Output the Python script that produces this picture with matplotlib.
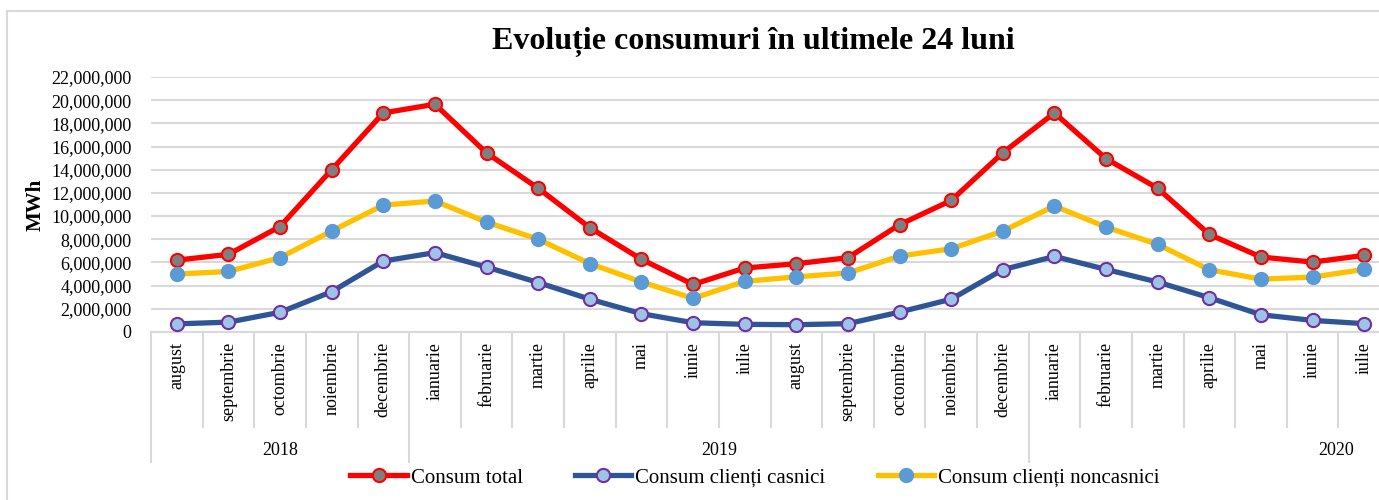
import matplotlib
matplotlib.use("Agg")
import matplotlib.pyplot as plt
from matplotlib.ticker import FuncFormatter, MultipleLocator
from matplotlib.lines import Line2D

plt.rcParams["font.family"] = ["Liberation Serif", "DejaVu Serif"]

# Data (MWh), august 2018 - iulie 2020
months = ["august", "septembrie", "octombrie", "noiembrie", "decembrie",
          "ianuarie", "februarie", "martie", "aprilie", "mai", "iunie", "iulie",
          "august", "septembrie", "octombrie", "noiembrie", "decembrie",
          "ianuarie", "februarie", "martie", "aprilie", "mai", "iunie", "iulie"]
years = ["2018", "2019", "2020"]
year_label_pos = [2.0, 10.5, 22.45]
year_breaks = [4.5, 16.5]

total = [6.2, 6.7, 9.1, 14.0, 18.9, 19.65, 15.45, 12.4, 9.0, 6.27, 4.1, 5.52,
         5.89, 6.41, 9.26, 11.35, 15.46, 18.9, 14.95, 12.4, 8.42, 6.47, 6.03, 6.61]
casnici = [0.7, 0.85, 1.7, 3.48, 6.12, 6.85, 5.6, 4.27, 2.83, 1.58, 0.8, 0.66,
           0.63, 0.72, 1.72, 2.83, 5.38, 6.52, 5.4, 4.31, 2.96, 1.49, 1.0, 0.72]
noncasnici = [5.0, 5.22, 6.42, 8.71, 10.95, 11.3, 9.48, 8.0, 5.9, 4.32, 2.9, 4.37,
              4.76, 5.09, 6.55, 7.18, 8.71, 10.87, 9.05, 7.56, 5.37, 4.56, 4.74, 5.4]

total = [v * 1e6 for v in total]
casnici = [v * 1e6 for v in casnici]
noncasnici = [v * 1e6 for v in noncasnici]

fig = plt.figure(figsize=(13.79, 5.0), dpi=100)
ax = fig.add_axes([151 / 1379, 1 - 332 / 500, 1239 / 1379, 255 / 500])

x = list(range(len(months)))
ax.plot(x, total, color="#ff0000", lw=3.8, marker="o", ms=9.5,
        mfc="#7f7f7f", mec="#ff0000", mew=1.5, label="Consum total", zorder=3)
ax.plot(x, casnici, color="#2f5597", lw=3.8, marker="o", ms=9.5,
        mfc="#9dc3e6", mec="#7030a0", mew=1.5, label="Consum clienți casnici", zorder=3)
ax.plot(x, noncasnici, color="#ffc000", lw=3.8, marker="o", ms=9.5,
        mfc="#5b9bd5", mec="#5b9bd5", mew=1.5, label="Consum clienți noncasnici", zorder=3)

ax.set_xlim(-0.5, len(months) - 0.5)
ax.set_ylim(0, 22e6)
ax.yaxis.set_major_locator(MultipleLocator(2e6))
ax.yaxis.set_major_formatter(FuncFormatter(lambda v, p: f"{v:,.0f}"))
ax.grid(axis="y", color="#d9d9d9", lw=1.5)
ax.set_axisbelow(True)
for s in ["top", "right", "left"]:
    ax.spines[s].set_visible(False)
ax.spines["bottom"].set_color("#d9d9d9")
ax.spines["bottom"].set_linewidth(1.5)
ax.tick_params(axis="y", length=0, pad=14, labelsize=13)
ax.set_xticks([])
ax.set_ylabel("MWh", fontsize=15, fontweight="bold")
ax.yaxis.set_label_coords(-0.085, 0.5)

# category axis: months and years
tr = ax.get_xaxis_transform()
for i, m in enumerate(months):
    ax.text(i, -0.04, m, transform=tr, rotation=90, ha="center", va="top", fontsize=13)
for i in range(len(months) + 1):
    b = i - 0.5
    y_end = -0.51 if (b == -0.5 or b in year_breaks) else -0.3725
    ax.add_line(Line2D([b, b], [0, y_end], transform=tr, color="#d9d9d9",
                       lw=1.5, clip_on=False))
for pos, yr in zip(year_label_pos, years):
    ax.text(pos, -0.463, yr, transform=tr, ha="center", va="center", fontsize=13)

fig.text(753 / 1379, 1 - 42 / 500, "Evoluție consumuri în ultimele 24 luni",
         ha="center", va="center", fontsize=23, fontweight="bold")

# chart frame (left and top edges visible in the crop)
fig.add_artist(Line2D([7 / 1379, 7 / 1379], [0, 1 - 11 / 500], color="#d9d9d9", lw=1.5))
fig.add_artist(Line2D([7 / 1379, 1], [1 - 11 / 500, 1 - 11 / 500], color="#d9d9d9", lw=1.5))

fig.legend(loc="center", bbox_to_anchor=(755 / 1379, 1 - 478 / 500), ncol=3,
           frameon=False, fontsize=15, handlelength=2.7, handletextpad=0.2,
           columnspacing=2.5, borderpad=0)

fig.savefig("out.png", dpi=100)
